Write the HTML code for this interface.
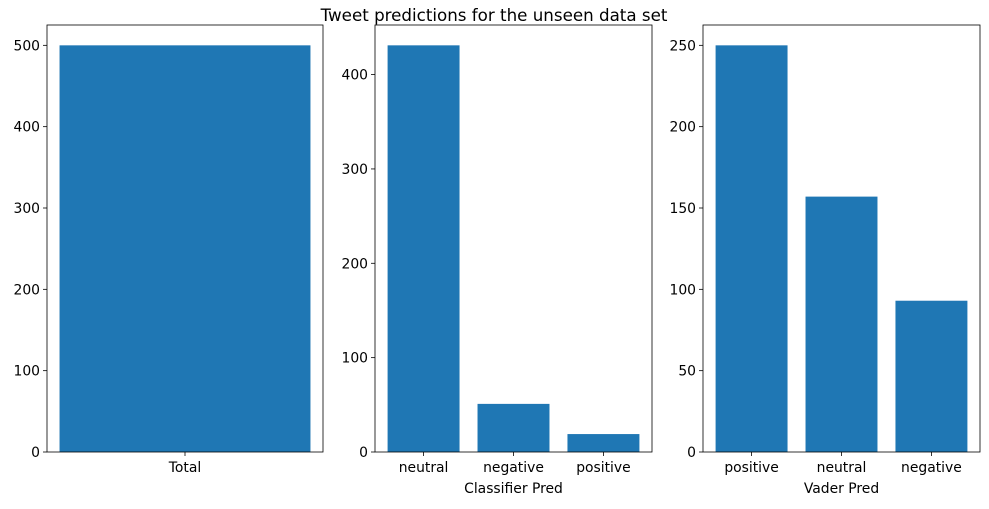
<!DOCTYPE html>
<html><head><meta charset="utf-8"><style>
body{margin:0;background:#fff;font-family:"DejaVu Sans","Liberation Sans",sans-serif;}
svg text{font-family:"DejaVu Sans","Liberation Sans",sans-serif;font-size:13.9px;fill:#000;}
</style></head><body>
<svg id="chart" width="989" height="505" xmlns="http://www.w3.org/2000/svg">
<text x="494" y="21" text-anchor="middle" style="font-size:16.7px">Tweet predictions for the unseen data set</text>
</svg>
<script>
const totalCats=["Total"];
const totalVals=[500];
const totalTicks=[0,100,200,300,400,500];
const clfCats=["neutral","negative","positive"];
const clfVals=[431,51,19];
const clfTicks=[0,100,200,300,400];
const vaderCats=["positive","neutral","negative"];
const vaderVals=[250,157,93];
const vaderTicks=[0,50,100,150,200,250];

const svgEl=document.getElementById('chart');
const NS='http://www.w3.org/2000/svg';
function mk(tag,attrs,parent){const e=document.createElementNS(NS,tag);for(const k in attrs)e.setAttribute(k,attrs[k]);(parent||svgEl).appendChild(e);return e;}
const axTop=25,axBottom=452;
function panel(name,left,right,cats,vals,ticks,xlabel){
  const g=mk('g',{});
  
  
  const ymax=Math.max(...vals)*1.05;
  const y=v=>axBottom-(v/ymax)*(axBottom-axTop);
  const n=cats.length;
  const span=(n-1+0.8)*1.1;
  const lo=-0.4-(n-1+0.8)*0.05;
  const x=v=>left+(v-lo)/span*(right-left);
  const bw=0.8/span*(right-left);
  cats.forEach((c,i)=>{
    const r=mk('rect',{x:x(i)-bw/2,y:y(vals[i]),width:bw,height:axBottom-y(vals[i]),fill:'#1f77b4'},g);
    
    
    mk('line',{x1:x(i),x2:x(i),y1:axBottom,y2:axBottom+4,stroke:'#000','stroke-width':0.8},g);
    const t=mk('text',{x:x(i),y:axBottom+20,'text-anchor':'middle'},g);t.textContent=c;
    
    
  });
  ticks.forEach(v=>{
    mk('line',{x1:left-4,x2:left,y1:y(v),y2:y(v),stroke:'#000','stroke-width':0.8},g);
    const t=mk('text',{x:left-7,y:y(v)+5,'text-anchor':'end'},g);t.textContent=v;
    
    
  });
  const b=mk('rect',{x:left,y:axTop,width:right-left,height:axBottom-axTop,fill:'none',stroke:'#000','stroke-width':0.8},g);
  
  
  if(xlabel){const t=mk('text',{x:(left+right)/2,y:axBottom+41,'text-anchor':'middle'},g);t.textContent=xlabel;
    
    }
}
panel('total',47,323,totalCats,totalVals,totalTicks,null);
panel('classifier',375,652,clfCats,clfVals,clfTicks,'Classifier Pred');
panel('vader',703,980,vaderCats,vaderVals,vaderTicks,'Vader Pred');
</script>
</body></html>
